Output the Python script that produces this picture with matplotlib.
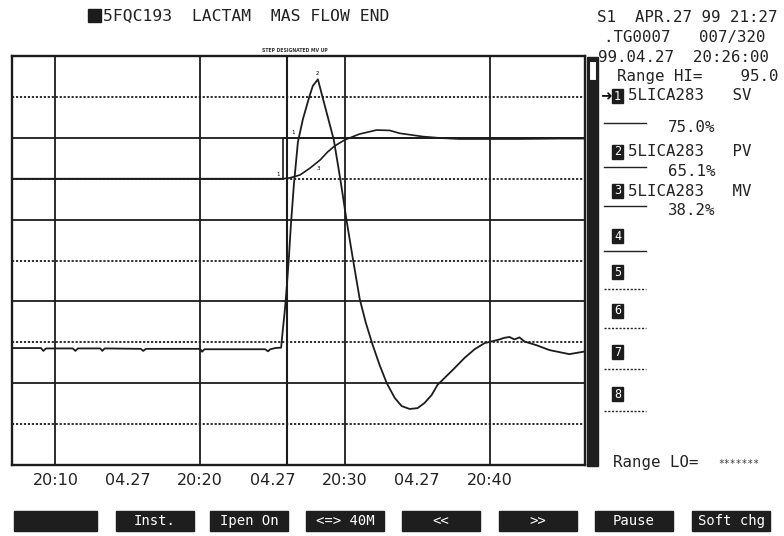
"""Trend display: 5FQC193 LACTAM MAS FLOW END (SV / PV / MV of 5LICA283)."""

import matplotlib.pyplot as plt
from matplotlib.patches import Rectangle

# time in minutes after 20:00, values in % of range
sv_time = [7.0, 25.72, 25.72, 46.6]
sv_value = [65.0, 65.0, 75.0, 75.0]

pv_time = [7.0, 15.0, 25.7, 26.2, 26.9, 27.6, 28.3, 28.8, 29.3, 30.0, 31.0, 32.2,
           33.1, 33.8, 35.4, 36.8, 37.9, 39.5, 42.0, 44.8, 46.6]
pv_value = [65.0, 65.0, 65.0, 65.2, 65.9, 67.6, 69.6, 71.5, 73.0, 74.5, 75.9, 76.9,
            76.8, 76.1, 75.3, 74.9, 74.7, 74.7, 74.7, 74.8, 74.8]

mv_time = [7.0, 9.0, 9.17, 9.35, 11.2, 11.38, 11.55, 13.1, 13.24, 13.4, 15.9, 16.07,
           16.25, 20.0, 20.14, 20.3, 24.5, 24.69, 24.85, 25.2, 25.6, 25.66, 25.86,
           26.0, 26.14, 26.28, 26.48, 26.76, 27.1, 27.52, 27.79, 28.14, 28.48, 29.24,
           29.72, 30.14, 30.55, 31.03, 31.45, 31.93, 32.41, 32.9, 33.45, 33.93, 34.48,
           35.03, 35.52, 36.0, 36.41, 36.9, 37.59, 38.28, 38.97, 39.66, 40.14, 40.69,
           41.03, 41.38, 41.72, 42.07, 42.41, 43.24, 44.14, 44.83, 45.52, 46.0, 46.5]
mv_value = [23.6, 23.6, 22.9, 23.5, 23.5, 22.9, 23.5, 23.5, 22.9, 23.5, 23.4, 22.9,
            23.4, 23.4, 22.7, 23.3, 23.3, 22.8, 23.3, 23.6, 23.7, 26.0, 33.0,
            39.0, 46.0, 54.0, 63.5, 74.0, 79.5, 84.7, 87.7, 89.3, 84.7, 74.5,
            64.2, 54.4, 45.6, 35.6, 29.8, 24.3, 19.4, 15.0, 11.4, 9.4, 8.7,
            8.9, 10.2, 12.1, 14.6, 16.3, 18.7, 21.2, 23.3, 24.8, 25.2, 25.7,
            26.1, 26.3, 25.7, 26.2, 25.2, 24.3, 23.1, 22.6, 22.1, 22.4, 22.7]

solid_levels = [75, 55, 35, 15]
dotted_levels = [85, 65, 45, 25, 5]
major_times = [10, 20, 30, 40]
cursor_time = 26.0

tick_times = [10, 15, 20, 25, 30, 35, 40]
tick_labels = ["20:10", "04.27", "20:20", "04.27", "20:30", "04.27", "20:40"]

info_lines = ["S1  APR.27 99 21:27", ".TG0007   007/320", "99.04.27  20:26:00",
              "Range HI=    95.0"]
pen_tags = ["5LICA283   SV", "5LICA283   PV", "5LICA283   MV"]
pen_values = ["75.0%", "65.1%", "38.2%"]
buttons = ["", "Inst.", "Ipen On", "<=> 40M", "<<", ">>", "Pause", "Soft chg"]

W, H = 784, 536
MONO = "DejaVu Sans Mono"
INK = "#1c1c1c"


def fx(x):
    return x / W


def fy(y):
    return 1 - y / H


def box(x0, y0, x1, y1, **kw):
    fig.patches.append(Rectangle((fx(x0), fy(y1)), fx(x1) - fx(x0), fy(y0) - fy(y1),
                                 transform=fig.transFigure, **kw))


def hline(x0, x1, y, **kw):
    fig.lines.append(plt.Line2D([fx(x0), fx(x1)], [fy(y), fy(y)],
                                transform=fig.transFigure, **kw))


fig = plt.figure(figsize=(W / 100, H / 100), dpi=100)
fig.patch.set_facecolor("white")

ax = fig.add_axes([fx(12), fy(465), fx(585) - fx(12), fy(56) - fy(465)])
ax.set_xlim(7.0, 46.6)
ax.set_ylim(-5, 95)

for lvl in solid_levels:
    ax.axhline(lvl, color=INK, lw=1.3, zorder=1)
for lvl in dotted_levels:
    ax.axhline(lvl, color=INK, lw=1.3, ls=(0, (1.2, 1.0)), zorder=1)
for t in major_times:
    ax.axvline(t, color=INK, lw=1.3, zorder=1)
ax.axvline(cursor_time, color=INK, lw=1.5, zorder=1)

ax.plot(sv_time, sv_value, color=INK, lw=1.2, zorder=3)
ax.plot(pv_time, pv_value, color=INK, lw=1.2, zorder=3)
ax.plot(mv_time, mv_value, color=INK, lw=1.3, zorder=3)

# small pen numbers on the traces
ax.text(25.4, 66.0, "1", fontsize=4, ha="center", va="center")
ax.text(26.4, 76.2, "1", fontsize=4, ha="center", va="center")
ax.text(28.14, 90.8, "2", fontsize=4, ha="center", va="center")
ax.text(28.2, 67.4, "3", fontsize=4, ha="center", va="center")

for s in ax.spines.values():
    s.set_linewidth(1.7)
    s.set_color(INK)
ax.tick_params(length=0, labelsize=11.5, pad=6)
ax.set_xticks(tick_times)
ax.set_xticklabels(tick_labels, family="DejaVu Sans", color="#222")
ax.set_yticks([])

# tiny caption above the plot
fig.text(fx(262), fy(51), "STEP DESIGNATED MV UP", fontsize=3.3, weight="bold",
         ha="left", va="center", color="#333")

# title
box(88, 9, 101, 22, color=INK)
fig.text(fx(103), fy(16), "5FQC193  LACTAM  MAS FLOW END", family=MONO,
         fontsize=11.8, ha="left", va="center", color="#222")

# scroll bar
box(587, 57, 598, 466, color="#1f1f1f")
box(589, 61, 596, 80, facecolor="white", edgecolor="#1f1f1f", lw=0.8)

# right-hand info panel
for i, line in enumerate(info_lines):
    x0 = [597, 604, 598, 617][i]
    fig.text(fx(x0), fy(18 + i * 19.5), line, family=MONO, fontsize=11.3,
             ha="left", va="center", color="#222")

pen_rows = [96, 152, 191]
value_rows = [127, 171, 210]
for i, row in enumerate(pen_rows):
    box(612, row - 7, 623, row + 7, color=INK)
    fig.text(fx(617.5), fy(row), str(i + 1), family=MONO, fontsize=8.5,
             ha="center", va="center", color="white")
    fig.text(fx(628), fy(row), pen_tags[i], family=MONO, fontsize=11.3,
             ha="left", va="center", color="#222")
    hline(604, 646, value_rows[i] - 4, color="#222", lw=1.0)
    fig.text(fx(668), fy(value_rows[i]), pen_values[i], family=MONO, fontsize=11.3,
             ha="left", va="center", color="#222")
fig.text(fx(600), fy(96), "\u279c", fontsize=10, ha="left", va="center",
         color="#111", family="DejaVu Sans")

empty_rows = [236, 272, 311, 352, 394]
for k, row in enumerate(empty_rows):
    box(612, row - 7, 623, row + 7, color=INK)
    fig.text(fx(617.5), fy(row), str(k + 4), family=MONO, fontsize=8.5,
             ha="center", va="center", color="white")
    if k == 0:
        hline(604, 646, row + 15, color="#222", lw=1.0)
    else:
        hline(604, 646, row + 17, color="#222", lw=1.0, ls=(0, (1.5, 1.2)))

fig.text(fx(613), fy(463), "Range LO=", family=MONO, fontsize=11.3,
         ha="left", va="center", color="#222")
fig.text(fx(718), fy(464), "*******", family=MONO, fontsize=7,
         ha="left", va="center", color="#333")

# soft-key buttons along the bottom
btn_left = [14, 116, 210, 306, 402, 499, 595, 692]
for x0, label in zip(btn_left, buttons):
    w = 83 if x0 == 14 else 78
    box(x0, 511, x0 + w, 531, color="#1e1e1e")
    fig.text(fx(x0 + w / 2), fy(521), label, family=MONO, fontsize=10,
             ha="center", va="center", color="white")

fig.savefig("out.png", dpi=100, facecolor="white")
